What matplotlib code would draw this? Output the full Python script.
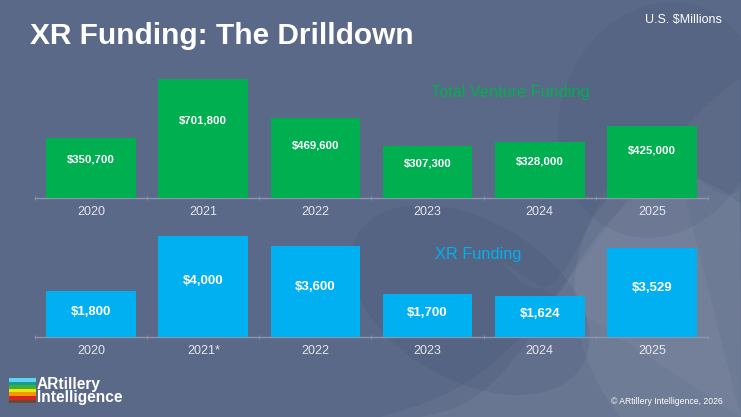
import matplotlib.pyplot as plt
import matplotlib.patches as mpatches
import numpy as np

# data ($ millions)
years_top = ['2020', '2021', '2022', '2023', '2024', '2025']
years_bottom = ['2020', '2021*', '2022', '2023', '2024', '2025']
venture_funding = [350700, 701800, 469600, 307300, 328000, 425000]
xr_funding = [1800, 4000, 3600, 1700, 1624, 3529]

BG = '#5a6987'
GREEN = '#00b050'
BLUE = '#00b0f0'
FONT = ['Liberation Sans Narrow', 'Liberation Sans', 'DejaVu Sans']

W, H = 741, 417
fig = plt.figure(figsize=(W / 100, H / 100), dpi=100)
fig.patch.set_facecolor(BG)

# background swirls (decoration only)
bg = fig.add_axes([0, 0, 1, 1], zorder=0)
bg.set_xlim(0, W)
bg.set_ylim(H, 0)
bg.axis('off')
t = np.linspace(0, 1, 200)
for x0, dx, y0, dy, amp, fr, a in [(420, 260, 417, 230, 30, 6, 0.05),
                                   (380, 360, 417, 300, 40, 5, 0.045),
                                   (500, 240, 260, 120, 50, 8, 0.035)]:
    xs = x0 + dx * t
    ys = y0 - dy * t + amp * np.sin(fr * t)
    bg.fill(np.r_[xs, W, W], np.r_[ys, H, H], color='white', alpha=a, lw=0)
bg.add_patch(mpatches.Ellipse((690, 320), 220, 300, angle=-20, color='white', alpha=0.05, lw=0))
bg.add_patch(mpatches.Ellipse((470, 300), 260, 160, angle=30, color='#3e4c70', alpha=0.15, lw=0))
bg.add_patch(mpatches.Ellipse((660, 120), 200, 240, angle=20, color='#3e4c70', alpha=0.12, lw=0))


def bar_panel(rect, values, labels, ymax, color, label_frac, fs):
    ax = fig.add_axes(rect, zorder=2)
    ax.patch.set_alpha(0)
    x = np.arange(len(values))
    ax.bar(x, values, width=0.8, color=color, zorder=3)
    ax.set_xlim(-0.5, len(values) - 0.5)
    ax.set_ylim(0, ymax)
    for s in ['top', 'left', 'right']:
        ax.spines[s].set_visible(False)
    ax.spines['bottom'].set_color('#8c95ab')
    ax.spines['bottom'].set_linewidth(1.0)
    ax.set_yticks([])
    ax.set_xticks(x)
    ax.set_xticklabels(labels, family=FONT, fontsize=9, color='#e4e6ee')
    ax.tick_params(axis='x', which='major', length=0, pad=6)
    ax.set_xticks(np.arange(len(values) + 1) - 0.5, minor=True)
    ax.tick_params(axis='x', which='minor', length=3, direction='inout', color='#8c95ab')
    for xi, v in zip(x, values):
        ax.text(xi, v * label_frac, '${:,}'.format(v), ha='center', va='center',
                color='white', fontsize=fs, fontweight='bold', family=FONT, zorder=4)
    return ax


left, width = 35 / W, 673 / W
top_ax = bar_panel([left, (H - 197.7) / H, width, (197.7 - 70) / H],
                   venture_funding, years_top, 753000, GREEN, 0.65, 8.2)
bot_ax = bar_panel([left, (H - 336.7) / H, width, (336.7 - 225) / H],
                   xr_funding, years_bottom, 4424, BLUE, 0.55, 9.5)

# titles and annotations
fig.text(30 / W, 1 - 36 / H, 'XR Funding: The Drilldown', family=FONT, fontsize=21.5,
         fontweight='bold', color='white', va='center', ha='left')
fig.text(722 / W, 1 - 20 / H, 'U.S. $Millions', family=FONT, fontsize=9,
         color='white', va='center', ha='right')
fig.text(510 / W, 1 - 92 / H, 'Total Venture Funding', family=FONT, fontsize=11.7,
         color=GREEN, va='center', ha='center', zorder=5)
fig.text(478 / W, 1 - 255 / H, 'XR Funding', family=FONT, fontsize=11.8,
         color=BLUE, va='center', ha='center', zorder=5)
fig.text(723 / W, 1 - 402 / H, '\u00a9 ARtillery Intelligence, 2026', family=FONT,
         fontsize=6.2, color='white', va='center', ha='right')

# logo
stripes = ['#5fd3f3', '#199c8c', '#3fae3f', '#f2e500', '#f29a00', '#d92222', '#6a4a32']
for i, c in enumerate(stripes):
    bg.add_patch(mpatches.Rectangle((9, 378 + i * 3.6), 27, 3.6, color=c, lw=0))
fig.text(37 / W, 1 - 391 / H, 'ARtillery\nIntelligence', family=FONT, fontsize=11.2,
         fontweight='bold', color='white', va='center', ha='left', linespacing=0.85)

fig.savefig('out.png', dpi=100, facecolor=fig.get_facecolor())
